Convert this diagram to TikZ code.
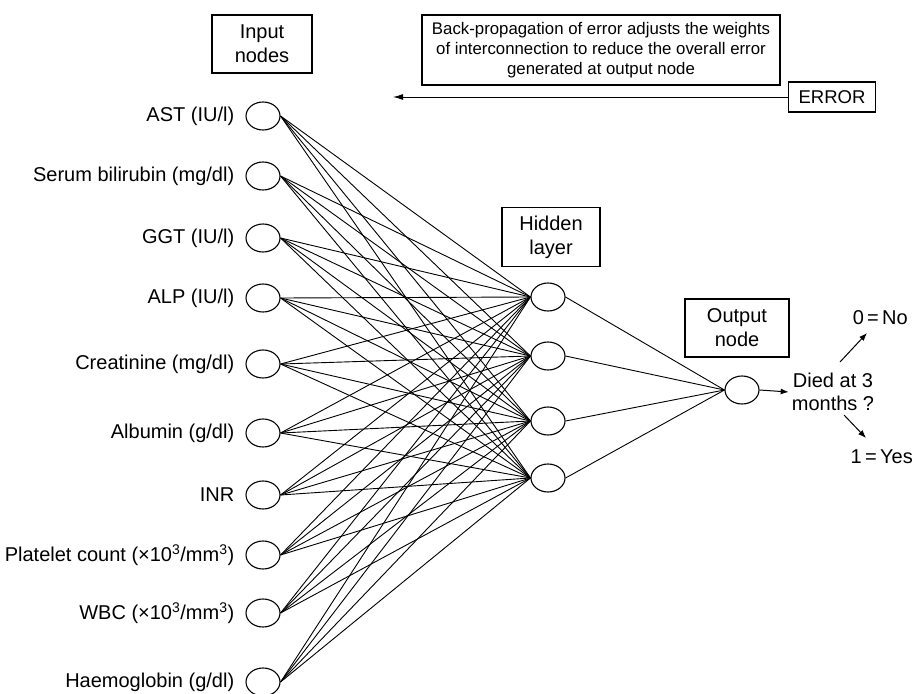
\documentclass[tikz,border=0pt]{standalone}
\usepackage{fontspec}
\setmainfont{Liberation Sans}
\usetikzlibrary{shapes.geometric,positioning,arrows.meta}
\tikzset{
    neuron/.style={
        ellipse, draw,
        line width=1.1pt,
        minimum width=34pt, minimum height=28pt,
        inner sep=0pt
    },
    layerbox/.style={
        draw, line width=1.1pt,
        align=center, inner sep=2pt,
        font=\fontsize{20}{24}\selectfont
    },
    inlabel/.style={font=\fontsize{20}{24}\selectfont, inner sep=0pt},
    weight/.style={line width=0.9pt},
    % arrows of the output side
    outarrow/.style={
        line width=1pt,
        -{Latex[length=8pt, width=6pt]}
    },
    errarrow/.style={
        line width=1pt,
        -{Latex[length=10pt, width=6pt]}
    }
}

\begin{document}
\begin{tikzpicture}[x=1pt,y=-1pt]
   \useasboundingbox (0,0) rectangle (915,693);

   % input layer
   \foreach \y/\txt [count=\i] in {116/{AST (IU/l)}, 176/{Serum bilirubin (mg/dl)}, 238/{GGT (IU/l)},
        298/{ALP (IU/l)}, 364/{Creatinine (mg/dl)}, 433/{Albumin (g/dl)}, 495/{INR},
        555/{Platelet count (×10\textsuperscript{3}/mm\textsuperscript{3})},
        613/{WBC (×10\textsuperscript{3}/mm\textsuperscript{3})}, 682/{Haemoglobin (g/dl)}}
   {
      \node[neuron] (in\i) at (263,\y) {};
      \node[inlabel, left=11pt of in\i] (lab\i) {\txt};
   }

   % hidden layer and output
   \foreach \y [count=\j] in {297,356,421,478}
      \node[neuron] (hid\j) at (548,\y) {};
   \node[neuron] (out) at (742,390) {};

   \foreach \i in {1,...,10}
      \foreach \j in {1,...,4}
         \draw[weight] (in\i.east) -- (hid\j.west);
   \foreach \j in {1,...,4}
      \draw[weight] (hid\j.east) -- (out.west);

   % boxes
   \node[layerbox, minimum width=100pt, minimum height=58pt] (inbox) at (262,44) {Input\\nodes};
   \node[layerbox, minimum width=98pt, minimum height=59pt] (hidbox) at (551,237) {Hidden\\layer};
   \node[layerbox, minimum width=104pt, minimum height=58pt] (outbox) at (737,328) {Output\\node};
   \node[layerbox, minimum width=358pt, minimum height=70pt, font=\fontsize{16.8}{20}\selectfont] (backprop) at (601,50)
      {Back-propagation of error adjusts the weights\\of interconnection to reduce the overall error\\generated at output node};
   \node[layerbox, minimum width=87pt, minimum height=30pt, inner sep=1pt, font=\fontsize{18.5}{20}\selectfont] (error) at (832,97) {ERROR};

   \coordinate (backend) at (393,97);
   \draw[errarrow] (error.west) -- (backend);

   % decision
   \node[inlabel, align=center, font=\fontsize{20}{23}\selectfont, inner sep=3pt] (died) at (833,392) {Died at 3\\months ?};
   \node[inlabel, anchor=east] (no) at (908,318) {0\,=\,No};
   \node[inlabel, anchor=east] (yes) at (913,457) {1\,=\,Yes};
   \draw[outarrow] (out.east) -- (died.west);
   \coordinate (upstart) at (840,362);
   \coordinate (uptip) at (867,333);
   \coordinate (downstart) at (844,415);
   \coordinate (downtip) at (866,438);
   \draw[outarrow] (upstart) -- (uptip);
   \draw[outarrow] (downstart) -- (downtip);
\end{tikzpicture}
\end{document}
